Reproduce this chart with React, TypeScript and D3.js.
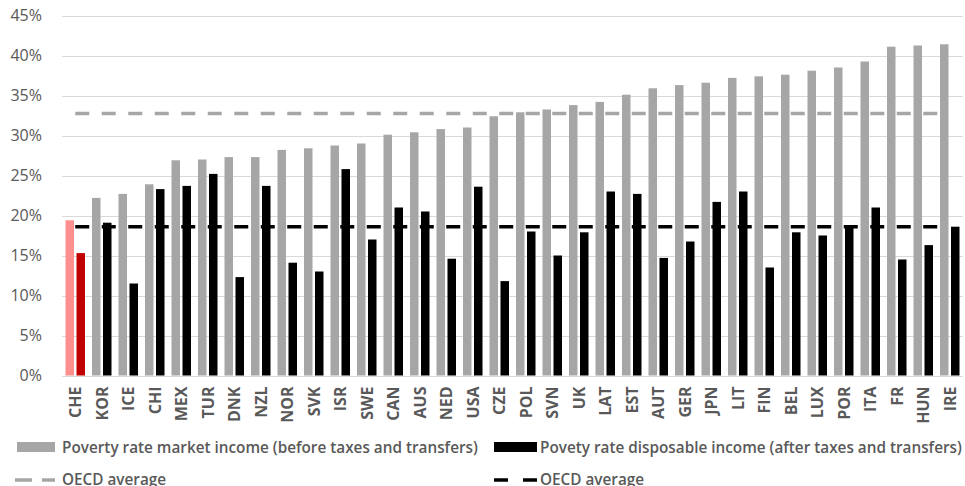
import React from "react";
import * as d3 from "d3";

const countries = ["CHE","KOR","ICE","CHI","MEX","TUR","DNK","NZL","NOR","SVK","ISR","SWE","CAN","AUS","NED","USA","CZE","POL","SVN","UK","LAT","EST","AUT","GER","JPN","LIT","FIN","BEL","LUX","POR","ITA","FR","HUN","IRE"];
const marketIncome = [19.4,22.2,22.7,23.9,26.9,27.0,27.3,27.3,28.2,28.4,28.75,29.0,30.1,30.4,30.8,31.0,32.4,32.9,33.25,33.8,34.2,35.1,35.9,36.3,36.6,37.2,37.4,37.6,38.1,38.5,39.25,41.1,41.25,41.4];
const disposableIncome = [15.3,19.1,11.5,23.3,23.7,25.2,12.3,23.7,14.1,13.0,25.8,17.0,21.0,20.5,14.6,23.6,11.8,18.0,15.0,17.9,23.0,22.7,14.7,16.75,21.7,23.0,13.5,17.9,17.5,18.8,21.0,14.5,16.3,18.6];
const oecdMarketAvg = 32.75;
const oecdDisposableAvg = 18.6;
const yTicks = [0,5,10,15,20,25,30,35,40,45];
const legendLabels = [
  "Poverty rate market income (before taxes and transfers)",
  "Povety rate disposable income (after taxes and transfers)",
  "OECD average",
  "OECD average",
];

const W = 965, H = 486;
const TEXT = "#595959";
const GRAY = "#a6a6a6";
const FONT = "'Open Sans', sans-serif";

export default function App() {
  const x = d3.scaleBand<string>().domain(countries).range([62, 963]);
  const y = d3.scaleLinear().domain([0, 45]).range([375.5, 15.5]);
  const bw = x.bandwidth();
  const barW = 8.5;
  const gap = 2.5;
  const cx = (c: string) => (x(c) as number) + bw / 2;
  const lineX1 = cx(countries[0]);
  const lineX2 = cx(countries[countries.length - 1]);

  return (
    <svg width={W} height={H} style={{ position: "absolute", left: 0, top: 0, background: "#fff" }} fontFamily={FONT}>
      {yTicks.map((t) => (
        <g key={t}>
          <line x1={62} x2={963} y1={Math.round(y(t)) + 0.5} y2={Math.round(y(t)) + 0.5} stroke="#d9d9d9" strokeWidth={1} />
          <text x={42} y={y(t)} dy="0.35em" textAnchor="end" fontSize={16} fill={TEXT}>{t}%</text>
        </g>
      ))}
      {countries.map((c, i) => {
        const isCHE = c === "CHE";
        return (
          <g key={c}>
            <rect x={cx(c) - gap / 2 - barW} y={y(marketIncome[i])} width={barW} height={y(0) - y(marketIncome[i])} fill={isCHE ? "#ff8f8f" : GRAY} />
            <rect x={cx(c) + gap / 2} y={y(disposableIncome[i])} width={barW} height={y(0) - y(disposableIncome[i])} fill={isCHE ? "#c00000" : "#000"} />
            <text transform={`translate(${cx(c) + 6},386.5) rotate(-90)`} textAnchor="end" fontSize={16} fontWeight={700} fill={TEXT}>{c}</text>
          </g>
        );
      })}
      <line x1={lineX1} x2={lineX2} y1={y(oecdMarketAvg)} y2={y(oecdMarketAvg)} stroke={GRAY} strokeWidth={3.5} strokeDasharray="14 12.5" />
      <line x1={lineX1} x2={lineX2} y1={y(oecdDisposableAvg)} y2={y(oecdDisposableAvg)} stroke="#000" strokeWidth={3.5} strokeDasharray="14 12.5" />
      {/* legend */}
      <rect x={17} y={442} width={38} height={10} fill={GRAY} />
      <text x={62} y={452.5} fontSize={15.3} fontWeight={600} fill={TEXT}>{legendLabels[0]}</text>
      <rect x={494} y={442} width={43} height={10} fill="#000" />
      <text x={540} y={452.5} fontSize={15.3} fontWeight={600} fill={TEXT}>{legendLabels[1]}</text>
      <line x1={15} x2={55} y1={480} y2={480} stroke={GRAY} strokeWidth={3.5} strokeDasharray="17 10" />
      <text x={62} y={485} fontSize={15.3} fontWeight={600} fill={TEXT}>{legendLabels[2]}</text>
      <line x1={494} x2={537} y1={480} y2={480} stroke="#000" strokeWidth={3.5} strokeDasharray="14 15" />
      <text x={540} y={485} fontSize={15.3} fontWeight={600} fill={TEXT}>{legendLabels[3]}</text>
    </svg>
  );
}
